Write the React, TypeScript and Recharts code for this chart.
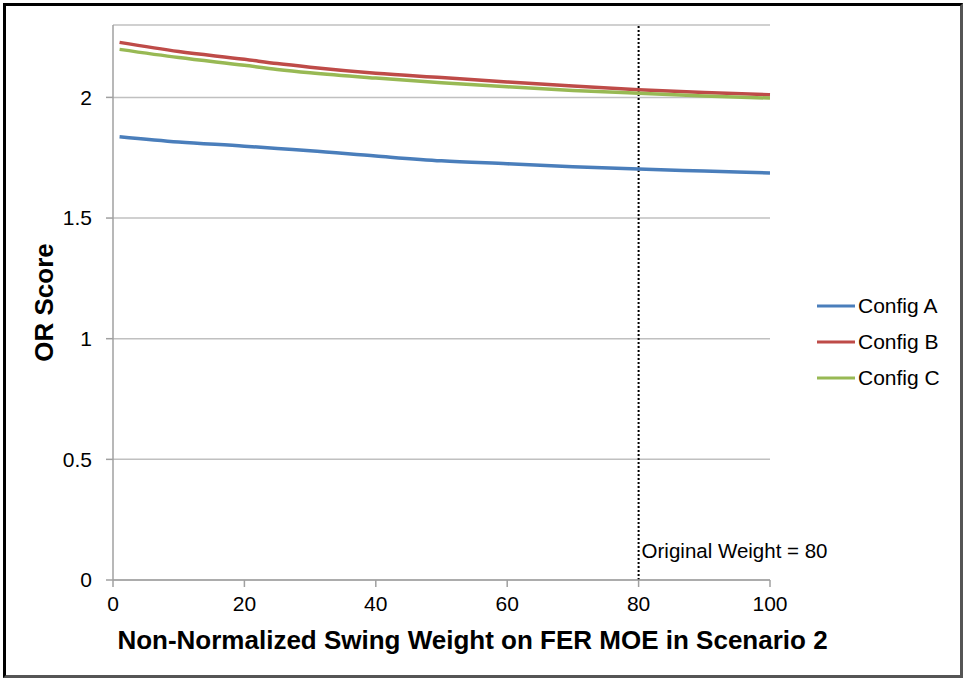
import { LineChart, Line, XAxis, YAxis, CartesianGrid, ReferenceLine, Legend } from 'recharts';

const weights = [1, 10, 20, 25, 30, 40, 50, 60, 70, 80, 90, 100];
const configA = [1.837, 1.815, 1.798, 1.788, 1.779, 1.757, 1.737, 1.725, 1.713, 1.703, 1.695, 1.687];
const configB = [2.228, 2.19, 2.158, 2.14, 2.125, 2.1, 2.082, 2.064, 2.047, 2.032, 2.02, 2.011];
const configC = [2.199, 2.165, 2.133, 2.116, 2.102, 2.08, 2.061, 2.044, 2.029, 2.017, 2.006, 1.997];
const xTicks = [0, 20, 40, 60, 80, 100];
const yTicks = [0, 0.5, 1, 1.5, 2];
const originalWeight = 80;

const series = [
  { key: 'a', name: 'Config A', color: '#4a7ebb' },
  { key: 'b', name: 'Config B', color: '#be4b48' },
  { key: 'c', name: 'Config C', color: '#98b954' },
];

const data = weights.map((w, i) => ({ w, a: configA[i], b: configB[i], c: configC[i] }));

const FONT = '"Liberation Sans", Arial, sans-serif';

function LegendBox() {
  return (
    <div style={{ fontFamily: FONT, fontSize: 21, color: '#000' }}>
      {series.map((s) => (
        <div key={s.key} style={{ display: 'flex', alignItems: 'center', height: 36 }}>
          <svg width={40} height={6} style={{ marginRight: 2 }}>
            <line x1={1} y1={3} x2={39} y2={3} stroke={s.color} strokeWidth={3} />
          </svg>
          <span>{s.name}</span>
        </div>
      ))}
    </div>
  );
}

export default function App() {
  return (
    <div style={{ position: 'absolute', left: 0, top: 0, width: 964, height: 679, background: '#fff' }}>
      <div
        style={{
          position: 'absolute', left: 3, top: 3, width: 960, height: 675, boxSizing: 'border-box',
          borderTop: '3px solid #000', borderLeft: '3px solid #000',
          borderRight: '3px solid #555', borderBottom: '3px solid #555',
        }}
      />
      <div style={{ position: 'absolute', left: 0, top: 0 }}>
        <LineChart width={964} height={679} data={data} margin={{ top: 25, right: 44, left: 0, bottom: 0 }}>
          <CartesianGrid vertical={false} stroke="#c0c0c0" strokeWidth={1.5} />
          <XAxis
            dataKey="w"
            type="number"
            domain={[0, 100]}
            ticks={xTicks}
            height={99}
            tickSize={7}
            tickMargin={9}
            stroke="#a0a0a0"
            strokeWidth={1.5}
            tick={{ fill: '#000', fontSize: 21, fontFamily: FONT }}
            label={(props: any) => {
              const vb = props.viewBox;
              return (
                <text x={vb.x + vb.width / 2 + 31} y={649} textAnchor="middle" fontFamily={FONT} fontSize={26} fontWeight="bold" fill="#000">
                  Non-Normalized Swing Weight on FER MOE in Scenario 2
                </text>
              );
            }}
          />
          <YAxis
            domain={[0, 2.3]}
            ticks={yTicks}
            width={113}
            tickSize={7}
            tickMargin={14}
            stroke="#a0a0a0"
            strokeWidth={1.5}
            tick={{ fill: '#000', fontSize: 21, fontFamily: FONT }}
            label={{
              value: 'OR Score', angle: -90, position: 'insideLeft', dx: 39,
              style: { fontFamily: FONT, fontSize: 26, fontWeight: 'bold', fill: '#000', textAnchor: 'middle' },
            }}
          />
          <ReferenceLine
            x={originalWeight}
            stroke="#000"
            strokeWidth={2}
            strokeDasharray="2 2"
            label={{ value: 'Original Weight = 80', position: 'insideBottomLeft', dx: -2, dy: -17, fill: '#000', fontSize: 20.5, fontFamily: FONT }}
          />
          {series.map((s) => (
            <Line
              key={s.key}
              dataKey={s.key}
              name={s.name}
              stroke={s.color}
              strokeWidth={3.5}
              dot={false}
              type="monotone"
              isAnimationActive={false}
            />
          ))}
          <Legend
            layout="vertical"
            align="right"
            verticalAlign="top"
            width={150}
            content={() => <LegendBox />}
            wrapperStyle={{ left: 816, top: 288, width: 150 }}
          />
        </LineChart>
      </div>
    </div>
  );
}
